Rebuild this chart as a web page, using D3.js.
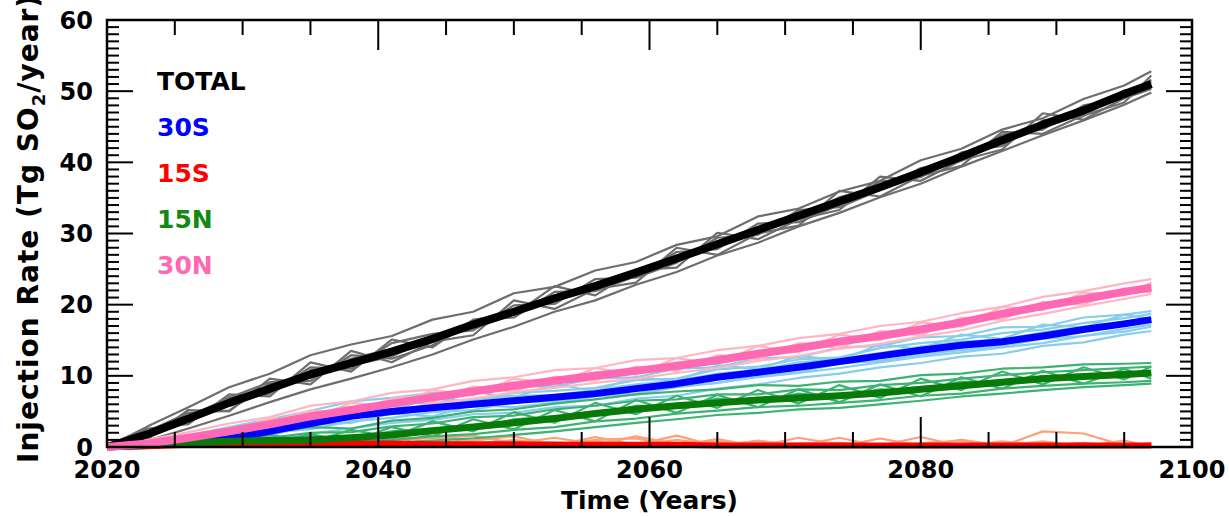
<!DOCTYPE html>
<meta charset="utf-8">
<script src="https://d3js.org/d3.v7.min.js"></script>
<style>
  body { margin: 0; background: #fff; }
  text { font-family: "DejaVu Sans", Verdana, sans-serif; font-weight: bold; }
</style>
<body>
<svg id="chart" width="1229" height="516"></svg>
<script>
// years of the samples (every 3 years, last one 2097)
var years = [2020,2023,2026,2029,2032,2035,2038,2041,2044,2047,2050,2053,2056,2059,2062,2065,2068,2071,2074,2077,2080,2083,2086,2089,2092,2095,2097];

// ensemble means
var totalMean = [0,1.8,4.0,6.2,8.2,10.2,11.8,13.4,15.2,17.2,19.0,20.9,22.6,24.5,26.5,28.5,30.5,32.5,34.5,36.5,38.6,40.8,43.1,45.3,47.3,49.6,51.0];
var s30Mean   = [0,0.2,0.6,1.2,2.2,3.3,4.3,5.0,5.5,6.0,6.5,7.0,7.5,8.2,8.9,9.8,10.5,11.2,12.0,12.8,13.6,14.3,14.8,15.6,16.5,17.3,17.9];
var s15Mean   = [0,0.1,0.3,0.4,0.5,0.5,0.5,0.5,0.4,0.4,0.4,0.3,0.3,0.3,0.3,0.2,0.2,0.2,0.2,0.2,0.2,0.2,0.2,0.2,0.2,0.2,0.2];
var n15Mean   = [0,0.3,0.6,0.8,0.9,1.0,1.3,1.7,2.3,2.8,3.4,4.0,4.7,5.3,5.8,6.2,6.6,6.9,7.2,7.6,8.1,8.6,9.1,9.6,9.9,10.2,10.4];
var n30Mean   = [0,0.5,1.3,2.2,3.2,4.3,5.2,6.1,7.0,7.8,8.6,9.3,10.0,10.7,11.4,12.2,13.1,13.9,14.8,15.6,16.5,17.5,18.7,19.8,20.8,21.8,22.4];

// ensemble members
var totalRuns = [
  [0,2.9,5.6,8.4,10.3,12.9,14.4,15.6,17.9,19.0,21.6,22.5,24.8,26.0,28.4,29.6,32.4,33.5,35.9,37.4,40.3,41.9,44.6,46.2,48.9,50.8,52.8],
  [0,0.9,2.6,4.4,6.3,8.1,9.6,11.2,13.0,15.1,16.9,19.0,20.6,22.8,24.6,26.9,28.7,31.0,32.9,35.1,37.0,39.4,41.6,43.8,45.9,48.1,49.8],
  [0,2.6,3.2,7.4,7.1,11.9,10.6,15.1,14.0,17.9,18.6,22.6,21.3,24.9,25.2,30.1,29.2,32.0,33.3,38.0,37.4,40.3,41.8,46.9,46.0,49.0,50.3],
  [0,1.1,5.2,5.0,9.6,8.8,13.5,11.9,14.8,15.7,20.6,19.4,22.2,23.1,28.0,27.0,30.0,31.1,36.0,35.2,38.1,39.5,44.3,44.0,46.6,48.4,52.2],
  [0,2.2,4.8,5.1,8.9,9.3,12.9,12.4,14.3,17.8,18.2,21.8,21.9,24.0,27.4,27.8,31.4,31.6,34.0,37.3,37.9,41.4,42.3,45.9,46.5,50.1,50.4],
  [0,1.5,3.5,7.0,7.5,11.2,11.0,14.6,15.9,16.4,19.9,20.1,23.6,23.8,25.9,29.4,29.8,33.3,33.7,36.1,39.2,40.2,43.9,44.6,48.0,49.0,51.6],
  [0,2.0,4.3,6.9,9.1,9.7,12.4,13.8,15.0,17.7,19.3,20.5,23.0,24.9,26.0,28.9,30.9,32.1,35.1,36.7,38.3,41.2,43.4,45.1,47.8,49.5,51.3],
  [0,1.6,3.7,5.8,7.8,10.8,11.5,12.7,15.5,16.7,18.6,21.3,22.2,24.1,26.9,28.2,30.1,32.9,34.2,36.4,38.9,40.5,42.8,45.6,47.1,49.9,50.7]
];
var s30Runs = [
  [0,0.7,1.6,2.8,3.9,5.1,6.4,6.9,7.6,7.7,8.6,8.5,9.6,9.8,11.0,11.2,12.5,12.6,14.0,14.2,15.4,15.6,16.8,16.9,18.2,18.6,19.1],
  [0,0.1,0.2,0.5,1.1,1.9,2.6,3.4,3.8,4.6,4.8,5.6,5.8,6.8,7.2,8.2,8.8,9.7,10.3,11.2,11.8,12.7,13.1,14.2,14.7,15.8,16.3],
  [0,0.5,1.0,2.3,2.6,4.5,4.8,6.6,5.9,7.8,6.9,8.9,7.8,9.9,9.2,11.5,10.9,12.8,12.2,14.4,13.8,15.8,15.2,17.2,16.8,18.6,18.0],
  [0,0.2,0.4,0.7,2.0,2.5,3.6,4.1,4.9,5.2,6.3,6.4,7.3,7.4,8.4,9.0,9.8,10.4,11.1,11.9,12.7,13.3,14.0,14.6,15.6,16.2,16.9],
  [0,0.3,1.2,1.6,3.2,3.8,5.5,5.3,6.8,6.4,7.6,7.9,8.3,9.4,9.6,10.9,11.3,12.3,12.6,13.9,14.6,15.1,16.0,16.5,17.4,18.1,18.7],
  [0,0.1,0.3,1.4,1.6,3.1,3.4,4.7,4.3,5.9,5.6,6.2,7.1,7.5,8.6,9.0,10.0,10.5,11.7,12.1,13.0,13.6,14.2,15.2,15.6,16.6,17.2],
  [0,0.4,0.7,1.9,2.4,3.9,4.2,5.8,5.2,6.6,7.2,7.3,8.0,8.8,9.3,10.3,10.8,11.9,12.4,13.2,14.1,14.8,15.1,16.1,16.9,17.6,18.2]
];
var s15Runs = [
  [0,0.3,0.8,0.5,1.6,0.6,1.2,0.3,1.9,0.4,1.0,0.2,1.4,0.3,1.6,0.1,0.9,0.2,1.3,0.1,0.5,0.9,0.1,2.2,1.9,0.2,0.6],
  [0,0.1,0.4,1.3,0.3,1.1,0.4,1.8,0.5,0.9,1.5,0.3,1.0,1.2,0.2,1.1,0.1,1.3,0.3,0.2,1.4,0.1,0.8,0.2,0.6,0.1,0.4],
  [0,0.2,0.5,0.9,0.8,1.7,0.6,1.1,1.2,1.6,0.5,1.3,0.4,0.2,1.0,0.3,0.8,0.2,0.1,1.2,0.2,1.0,0.2,0.7,0.1,0.9,0.1],
  [0,0.1,0.2,0.4,0.6,0.3,0.8,0.5,0.3,0.6,0.2,0.5,0.2,0.4,0.1,0.2,0.3,0.1,0.2,0.1,0.1,0.2,0.1,0.1,0.2,0.1,0.3],
  [0,0.2,0.6,0.9,0.4,0.7,1.3,0.6,0.7,0.3,0.6,0.7,0.3,1.5,0.4,0.8,0.2,0.5,0.6,0.3,0.2,0.3,0.5,0.2,0.4,0.3,0.1],
  [0,0.1,0.3,0.2,0.9,0.5,0.3,1.0,0.2,0.5,0.4,0.1,0.8,0.1,0.3,0.1,0.7,0.3,0.2,0.4,0.1,0.1,0.2,0.8,0.1,0.1,0.2]
];
var n15Runs = [
  [0,0.8,1.5,2.0,2.1,2.8,2.6,3.7,4.1,5.0,5.3,6.1,6.7,7.4,7.8,8.1,8.7,8.6,9.2,9.3,10.1,10.3,11.0,11.2,11.6,11.7,11.8],
  [0,0.1,0.1,0.2,0.3,0.3,0.4,0.6,0.9,1.2,1.7,2.2,2.8,3.4,3.9,4.5,4.8,5.3,5.5,6.0,6.5,7.1,7.5,8.0,8.4,8.7,8.9],
  [0,0.5,1.0,0.6,1.7,0.7,2.4,1.4,3.6,2.2,4.9,3.4,6.2,4.6,7.2,5.5,8.0,6.1,8.7,6.9,9.6,8.0,10.6,8.8,11.2,9.5,11.3],
  [0,0.2,0.2,1.4,0.5,1.8,0.7,2.8,1.5,3.9,2.5,5.2,3.6,6.6,4.8,7.3,5.6,8.1,6.3,8.8,7.1,9.8,8.2,10.7,8.9,11.0,9.6],
  [0,0.6,0.9,1.4,1.3,2.0,2.1,2.9,3.3,4.2,4.4,5.3,5.8,6.5,6.7,7.4,7.4,8.1,8.0,8.7,9.0,9.6,10.1,10.5,10.8,11.1,11.3],
  [0,0.1,0.3,0.4,0.5,0.4,0.8,1.0,1.5,1.8,2.4,2.8,3.6,4.0,4.7,5.1,5.6,5.8,6.2,6.6,7.2,7.5,8.2,8.6,8.9,9.1,9.3],
  [0,0.3,0.7,1.0,0.8,1.5,1.2,2.2,2.6,2.5,3.9,4.3,4.4,5.8,5.6,6.8,6.4,7.5,7.0,8.1,7.9,9.2,8.8,10.0,9.6,10.6,10.1]
];
var n30Runs = [
  [0,1.0,2.1,3.3,4.2,5.8,6.4,7.6,8.1,9.3,9.8,10.8,11.1,12.2,12.5,13.6,14.2,15.3,15.9,17.0,17.6,18.8,19.7,21.1,21.9,23.0,23.6],
  [0,0.2,0.8,1.4,2.5,3.3,4.3,5.0,6.1,6.8,7.7,8.3,9.0,9.6,10.4,11.1,12.1,12.8,13.8,14.5,15.5,16.4,17.7,18.7,19.8,20.8,21.5],
  [0,0.8,1.7,2.0,4.0,3.9,6.2,5.7,8.0,7.3,9.6,8.8,11.1,10.2,12.5,11.7,14.2,13.3,15.8,15.0,17.5,16.9,19.7,19.2,21.7,21.3,23.1],
  [0,0.3,0.8,2.7,2.6,4.9,4.5,6.7,6.3,8.4,7.8,9.9,9.3,11.3,10.7,12.9,12.3,14.6,13.9,16.3,15.7,18.2,17.9,20.4,20.0,22.3,21.7],
  [0,0.6,1.6,2.5,3.6,5.1,4.9,6.8,7.4,8.1,9.1,9.2,10.5,10.8,11.9,12.1,13.5,13.7,15.2,15.5,16.9,17.2,19.1,19.5,21.2,21.6,22.9],
  [0,0.2,1.1,1.8,2.8,4.0,5.6,5.8,6.7,8.5,8.2,9.7,9.6,11.1,11.0,12.6,12.7,14.2,14.4,15.9,16.1,17.8,18.3,20.1,20.4,22.1,22.0],
  [0,0.5,1.4,2.3,3.3,4.6,5.3,6.3,7.1,8.0,8.8,9.5,10.3,10.9,11.6,12.3,13.4,14.0,15.1,15.7,16.8,17.6,19.0,19.9,21.0,21.9,22.6]
];

var legendNames = ["TOTAL", "30S", "15S", "15N", "30N"];
var legendColors = ["#000000", "#0000ff", "#ff0000", "#128a12", "#ff69b4"];
var xTicks = [2020, 2040, 2060, 2080, 2100];
var yTicks = [0, 10, 20, 30, 40, 50, 60];

var svg = d3.select("#chart"),
  margin = {top: 20, right: 37, bottom: 69, left: 107},
  width = +svg.attr("width") - margin.left - margin.right,
  height = +svg.attr("height") - margin.top - margin.bottom;

var g = svg.append("g").attr("transform", "translate(" + margin.left + "," + margin.top + ")");

var x = d3.scaleLinear().domain([2020, 2100]).range([0, width]);
var y = d3.scaleLinear().domain([0, 60]).range([height, 0]);

var line = d3.line()
  .x(function(d, i) { return x(years[i]); })
  .y(function(d) { return y(d); });

var groups = [
  {runs: totalRuns, mean: totalMean, light: "#6e6e6e", dark: "#000000", w: 8},
  {runs: s30Runs, mean: s30Mean, light: "#87ceeb", dark: "#0000ff", w: 7},
  {runs: s15Runs, mean: s15Mean, light: "#ffa07a", dark: "#ff0000", w: 6},
  {runs: n15Runs, mean: n15Mean, light: "#3cb371", dark: "#087a08", w: 7},
  {runs: n30Runs, mean: n30Mean, light: "#ffb6c1", dark: "#ff69b4", w: 8}
];

// thin ensemble lines first
groups.forEach(function(grp) {
  g.append("g").selectAll("path")
    .data(grp.runs)
    .enter().append("path")
      .attr("d", line)
      .attr("fill", "none")
      .attr("stroke", grp.light)
      .attr("stroke-width", 2.2)
      .attr("stroke-linejoin", "round");
});

// then the means
groups.forEach(function(grp) {
  g.append("path")
    .attr("d", line(grp.mean))
    .attr("fill", "none")
    .attr("stroke", grp.dark)
    .attr("stroke-width", grp.w)
    .attr("stroke-linejoin", "round");
});

// ticks (all pointing inward, on all four sides)
var xMinor = d3.range(2020, 2101, 5);
var yMinor = d3.range(0, 61, 1);

function tickLine(sel, x1, y1, x2, y2) {
  sel.append("line").attr("x1", x1).attr("y1", y1).attr("x2", x2).attr("y2", y2)
    .attr("stroke", "#000").attr("stroke-width", 2);
}
var ticks = g.append("g");
xMinor.forEach(function(v) {
  var len = (v % 20 === 0) ? 30 : 15;
  tickLine(ticks, x(v), height, x(v), height - len);
  tickLine(ticks, x(v), 0, x(v), len);
});
yMinor.forEach(function(v) {
  var len = (v % 10 === 0) ? 26 : 12;
  tickLine(ticks, 0, y(v), len, y(v));
  tickLine(ticks, width, y(v), width - len, y(v));
});

// frame
g.append("rect")
  .attr("width", width).attr("height", height)
  .attr("fill", "none").attr("stroke", "#000").attr("stroke-width", 2.5);

// tick labels
g.selectAll(".xl").data(xTicks).enter().append("text")
  .attr("x", function(d) { return x(d); })
  .attr("y", height + 31)
  .attr("text-anchor", "middle")
  .style("font-size", "24px")
  .text(function(d) { return d; });

g.selectAll(".yl").data(yTicks).enter().append("text")
  .attr("x", -14)
  .attr("y", function(d) { return y(d); })
  .attr("dy", "0.36em")
  .attr("text-anchor", "end")
  .style("font-size", "24px")
  .text(function(d) { return d; });

// axis titles
svg.append("text")
  .attr("x", margin.left + x(2060))
  .attr("y", 509)
  .attr("text-anchor", "middle")
  .style("font-size", "25px")
  .text("Time (Years)");

var yt = svg.append("text")
  .attr("transform", "translate(38,463) rotate(-90)")
  .attr("text-anchor", "start")
  .style("font-size", "28px")
  .style("letter-spacing", "1px");
yt.append("tspan").text("Injection Rate (Tg SO");
yt.append("tspan").attr("dy", 7).style("font-size", "18px").text("2");
yt.append("tspan").attr("dy", -7).text("/year)");

// legend
legendNames.forEach(function(name, i) {
  svg.append("text")
    .attr("x", 157)
    .attr("y", 90 + i * 46)
    .style("font-size", "25px")
    .attr("fill", legendColors[i])
    .text(name);
});
</script>
</body>
</html>
